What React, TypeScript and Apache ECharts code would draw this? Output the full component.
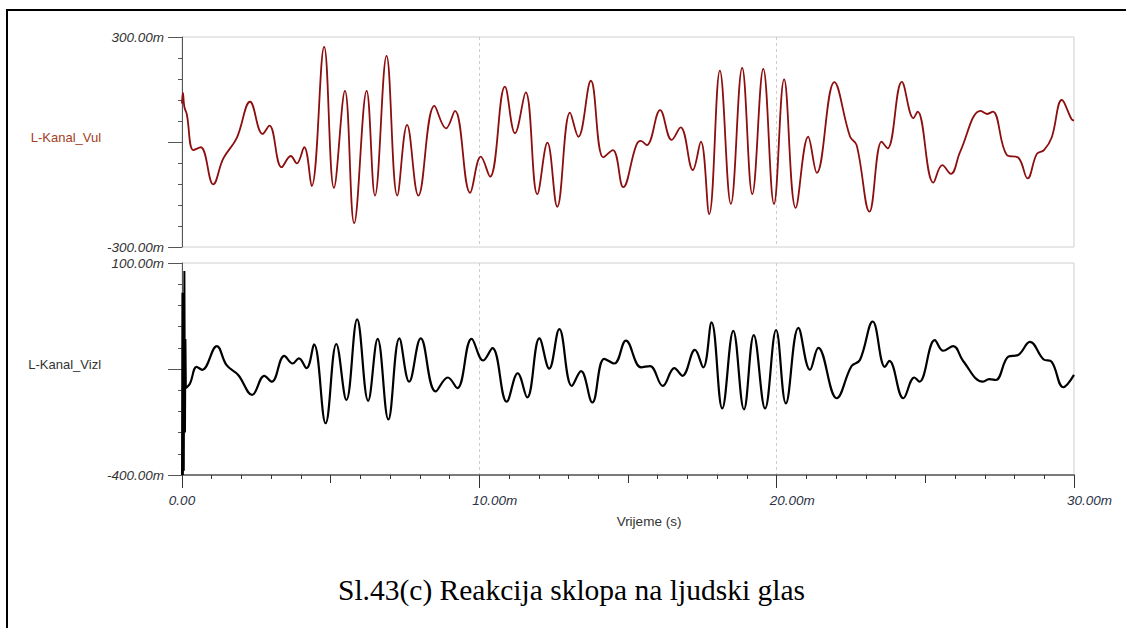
import React, { useEffect, useRef } from "react";
import * as echarts from "echarts";

// ---- Data (time in ms, voltage in mV) ----
const TIME_VUL = [0, 0.03, 0.08, 0.16, 0.38, 0.63, 1.05, 1.39, 1.84, 2.29, 2.71, 2.94, 3.35, 3.66, 3.86, 4.11, 4.36, 4.78, 5.11, 5.48, 5.79, 6.21, 6.49, 6.88, 7.24, 7.57, 7.95, 8.49, 8.88, 9.18, 9.69, 10.05, 10.36, 10.86, 11.2, 11.56, 11.95, 12.29, 12.62, 13.05, 13.33, 13.75, 14.17, 14.49, 14.84, 15.27, 15.43, 15.63, 16.08, 16.47, 16.77, 17.18, 17.45, 17.73, 18.09, 18.46, 18.84, 19.18, 19.55, 19.91, 20.25, 20.64, 21.06, 21.35, 21.94, 22.47, 22.69, 23.12, 23.53, 23.73, 24.21, 24.6, 24.74, 25.27, 25.57, 25.86, 26.17, 26.86, 27.08, 27.27, 27.74, 28.13, 28.44, 28.75, 28.99, 29.25, 29.59, 29.92, 30];
const VALUES_VUL = [110, 140, 100, 80, -23, -15, -121, -47, 11, 115, 23, 47, -72, -40, -61, -15, -126, 272, -131, 146, -232, 146, -153, 246, -153, 49, -153, 103, 39, 89, -145, -42, -99, 158, 25, 142, -149, -2, -185, 84, 15, 175, -44, -23, -129, -11, 3, -9, 91, 6, 42, -80, 1, -206, 204, -177, 212, -149, 209, -177, 179, -188, 15, -88, 171, 15, -9, -199, 1, -18, 172, 68, 87, -116, -66, -91, -28, 89, 80, 87, -37, -45, -104, -34, -23, 13, 120, 65, 61];

const TIME_VIZL_SPIKE = [0, 0.015, 0.03, 0.045, 0.06, 0.08, 0.1, 0.115, 0.13];
const VALUES_VIZL_SPIKE = [-400, 30, -400, 25, -390, 81, -300, -79, -195];

const TIME_VIZL = [0.13, 0.27, 0.49, 0.68, 1.17, 1.5, 1.89, 2.36, 2.77, 3.02, 3.44, 3.72, 3.93, 4.19, 4.44, 4.83, 5.19, 5.53, 5.89, 6.26, 6.58, 6.94, 7.31, 7.64, 8.03, 8.53, 8.94, 9.26, 9.74, 10.13, 10.44, 10.92, 11.29, 11.61, 12.02, 12.35, 12.69, 13.11, 13.42, 13.8, 14.2, 14.54, 14.93, 15.44, 15.74, 16.17, 16.56, 16.83, 17.25, 17.53, 17.81, 18.17, 18.54, 18.9, 19.23, 19.61, 19.98, 20.31, 20.73, 21.12, 21.4, 22.02, 22.52, 22.8, 23.23, 23.64, 23.79, 24.26, 24.63, 24.8, 25.32, 25.6, 25.94, 26.27, 26.93, 27.15, 27.37, 27.79, 28.12, 28.52, 28.97, 29.25, 29.64, 30];
const VALUES_VIZL = [-195, -184, -145, -152, -96, -141, -164, -211, -166, -180, -119, -137, -125, -148, -92, -278, -91, -223, -33, -225, -79, -269, -78, -180, -78, -203, -170, -195, -79, -130, -101, -227, -160, -217, -78, -149, -56, -190, -155, -229, -126, -137, -83, -146, -143, -190, -148, -166, -105, -146, -40, -243, -60, -245, -70, -243, -58, -231, -53, -152, -100, -219, -143, -129, -38, -145, -131, -219, -170, -180, -82, -107, -96, -131, -180, -174, -176, -121, -117, -86, -127, -133, -193, -164];

const X_RANGE = [0, 30];
const Y_RANGE_VUL = [-300, 300];
const Y_RANGE_VIZL = [-400, 100];
const Y_MAJOR_VIZL = [-400, -150, 100];
const X_MID_TICKS = [5, 15, 25];

const SERIES_NAMES = ["L-Kanal_Vul", "L-Kanal_Vizl"];
const X_NAME = "Vrijeme (s)";
const CAPTION = "Sl.43(c) Reakcija sklopa na ljudski glas";

const zip = (a: number[], b: number[]) => a.map((t, i) => [t, b[i]]);

const SANS = "'Liberation Sans', Arial, sans-serif";
const tickLabelStyle = {
  fontSize: 13.5,
  fontStyle: "italic" as const,
  color: "#2b3245",
  fontFamily: SANS,
};

export default function App() {
  const ref = useRef<HTMLDivElement>(null);

  useEffect(() => {
    if (!ref.current) return;
    const chart = echarts.init(ref.current, undefined, { renderer: "svg" });

    const yLabelFmt = (lo: number, hi: number) => (v: number) =>
      v === lo || v === hi ? v.toFixed(2) + "m" : "";

    const option: any = {
      animation: false,
      backgroundColor: "#ffffff",
      grid: [
        { left: 182, top: 37, width: 892, height: 210, show: true, borderColor: "#cfcfcf", borderWidth: 1 },
        { left: 182, top: 263, width: 892, height: 212, show: true, borderColor: "#cfcfcf", borderWidth: 1 },
      ],
      xAxis: [
        {
          gridIndex: 0, type: "value", position: "bottom", min: X_RANGE[0], max: X_RANGE[1], interval: 10,
          axisLine: { show: false }, axisTick: { show: false }, axisLabel: { show: false },
          splitLine: { show: true, showMinLine: false, showMaxLine: false, lineStyle: { color: "#cccccc", type: [3, 3], width: 1 } },
        },
        {
          gridIndex: 1, type: "value", position: "bottom", offset: 0, min: X_RANGE[0], max: X_RANGE[1], interval: 10,
          axisLine: { show: true, onZero: false, lineStyle: { color: "#7a7a7a", width: 2 } },
          axisTick: { show: true, length: 13, lineStyle: { color: "#333", width: 1 } },
          minorTick: { show: true, splitNumber: 10, length: 4, lineStyle: { color: "#333", width: 1 } },
          splitLine: { show: true, showMinLine: false, showMaxLine: false, lineStyle: { color: "#cccccc", type: [3, 3], width: 1 } },
          axisLabel: {
            show: true, margin: 18, align: "center", showMinLabel: true, showMaxLabel: true,
            formatter: (v: number) => (v === 0 ? "{t|0.00}" : "{p|}{t|" + v.toFixed(2) + "m}"),
            rich: { t: tickLabelStyle, p: { width: 31 } },
          },
          name: X_NAME, nameLocation: "middle", nameGap: 39,
          nameTextStyle: { fontSize: 13.5, color: "#333", fontFamily: SANS, padding: [0, 0, 0, 42] },
        },
        {
          gridIndex: 1, type: "value", position: "bottom", offset: 0, min: X_RANGE[0], max: X_RANGE[1],
          axisLine: { show: false, onZero: false }, axisLabel: { show: false }, splitLine: { show: false },
          axisTick: { show: true, length: 8, customValues: X_MID_TICKS, lineStyle: { color: "#333", width: 1 } },
        },
      ],
      yAxis: [
        {
          gridIndex: 0, type: "value", position: "left", min: Y_RANGE_VUL[0], max: Y_RANGE_VUL[1], interval: 60,
          axisLine: { show: true, onZero: false, lineStyle: { color: "#555", width: 1 } },
          axisTick: { show: true, length: 4, lineStyle: { color: "#555" } },
          splitLine: { show: false },
          axisLabel: { show: true, margin: 18, formatter: yLabelFmt(Y_RANGE_VUL[0], Y_RANGE_VUL[1]), ...tickLabelStyle, color: "#333" },
          name: SERIES_NAMES[0], nameLocation: "middle", nameRotate: 0, nameGap: 79,
          nameTextStyle: { fontSize: 13, color: "#a3401e", fontFamily: SANS, align: "right", verticalAlign: "bottom", lineHeight: 10 },
        },
        {
          gridIndex: 0, type: "value", position: "left", offset: 0, min: Y_RANGE_VUL[0], max: Y_RANGE_VUL[1], interval: 300,
          axisLine: { show: false, onZero: false }, axisLabel: { show: false }, splitLine: { show: false },
          axisTick: { show: true, length: 14, lineStyle: { color: "#555" } },
        },
        {
          gridIndex: 1, type: "value", position: "left", min: Y_RANGE_VIZL[0], max: Y_RANGE_VIZL[1], interval: 50,
          axisLine: { show: true, onZero: false, lineStyle: { color: "#555", width: 1 } },
          axisTick: { show: true, length: 4, lineStyle: { color: "#555" } },
          splitLine: { show: false },
          axisLabel: { show: true, margin: 18, formatter: yLabelFmt(Y_RANGE_VIZL[0], Y_RANGE_VIZL[1]), ...tickLabelStyle, color: "#333" },
          name: SERIES_NAMES[1], nameLocation: "middle", nameRotate: 0, nameGap: 79,
          nameTextStyle: { fontSize: 13, color: "#333", fontFamily: SANS, align: "right", verticalAlign: "bottom", lineHeight: 10 },
        },
        {
          gridIndex: 1, type: "value", position: "left", offset: 0, min: Y_RANGE_VIZL[0], max: Y_RANGE_VIZL[1],
          axisLine: { show: false, onZero: false }, axisLabel: { show: false }, splitLine: { show: false },
          axisTick: { show: true, length: 14, customValues: Y_MAJOR_VIZL, lineStyle: { color: "#555" } },
        },
      ],
      series: [
        {
          name: SERIES_NAMES[0], type: "line", xAxisIndex: 0, yAxisIndex: 0,
          data: zip(TIME_VUL, VALUES_VUL), smooth: 0.4, showSymbol: false,
          lineStyle: { color: "#8c0e0e", width: 1.8 },
        },
        {
          name: SERIES_NAMES[1] + " spike", type: "line", xAxisIndex: 1, yAxisIndex: 2,
          data: zip(TIME_VIZL_SPIKE, VALUES_VIZL_SPIKE), smooth: false, showSymbol: false,
          lineStyle: { color: "#000", width: 2 },
        },
        {
          name: SERIES_NAMES[1], type: "line", xAxisIndex: 1, yAxisIndex: 2,
          data: zip(TIME_VIZL, VALUES_VIZL), smooth: 0.4, showSymbol: false,
          lineStyle: { color: "#000", width: 2.2 },
        },
      ],
      graphic: [
        {
          type: "rect", silent: true,
          shape: { x: 7, y: 10, width: 1140, height: 650 },
          style: { fill: "none", stroke: "#000", lineWidth: 2 },
        },
        {
          type: "text", x: 338, y: 590,
          style: {
            text: CAPTION, fontSize: 29.5, fontFamily: "'Liberation Serif', 'Times New Roman', serif",
            fill: "#000", align: "left", verticalAlign: "middle",
          },
        },
      ],
    };

    chart.setOption(option);
    return () => chart.dispose();
  }, []);

  return (
    <div
      ref={ref}
      style={{ position: "absolute", left: 0, top: 0, width: 1126, height: 628 }}
    />
  );
}
